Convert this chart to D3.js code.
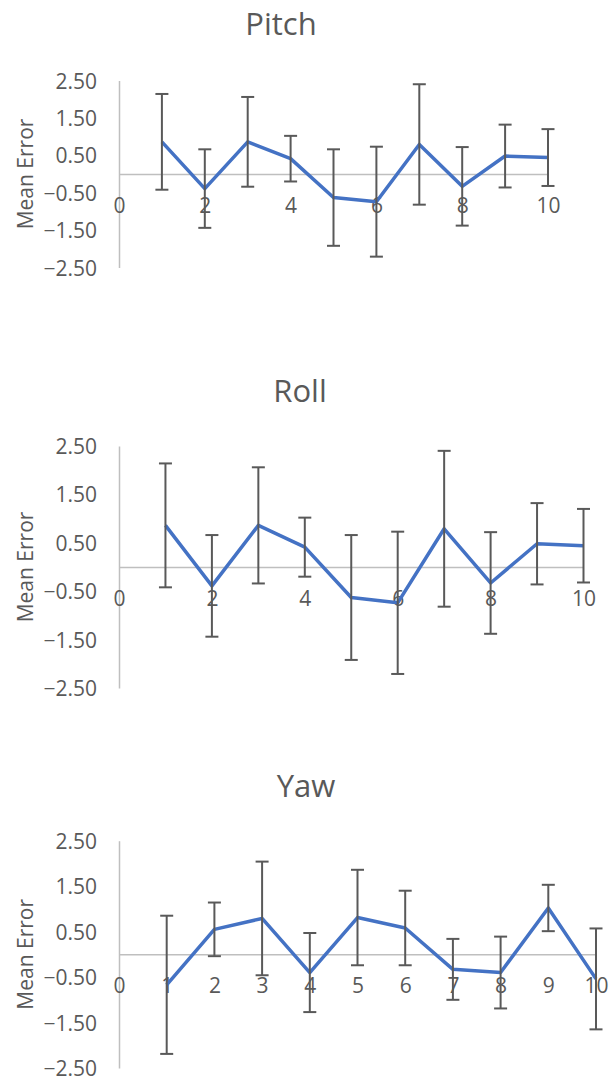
<!DOCTYPE html>
<html lang="en">
<head>
<meta charset="UTF-8">
<style>
    body {margin: 0; background: #ffffff;}
    svg {display: block;}
    .title {font: 31px "Open Sans"; fill: #595959; text-anchor: middle;}
    .axis text {font: 21px "Open Sans"; fill: #595959;}
    .ylabel {font: 21px "Open Sans"; fill: #595959; text-anchor: middle;}
</style>
</head>
<body>
<div id="chart"></div>
<script src="https://d3js.org/d3.v7.min.js"></script>
<script>

// data
var runs = [1, 2, 3, 4, 5, 6, 7, 8, 9, 10];
var yTicks = [2.5, 1.5, 0.5, -0.5, -1.5, -2.5];

var pitchMean = [0.86, -0.39, 0.86, 0.41, -0.63, -0.74, 0.79, -0.33, 0.48, 0.44];
var pitchErr  = [1.28, 1.05, 1.20, 0.61, 1.29, 1.47, 1.61, 1.05, 0.84, 0.76];

var rollMean = [0.86, -0.39, 0.86, 0.41, -0.63, -0.74, 0.79, -0.33, 0.48, 0.44];
var rollErr  = [1.28, 1.05, 1.20, 0.61, 1.29, 1.47, 1.61, 1.05, 0.84, 0.76];

var yawMean = [-0.67, 0.55, 0.79, -0.40, 0.81, 0.58, -0.33, -0.40, 1.02, -0.54];
var yawErr  = [1.52, 0.59, 1.25, 0.87, 1.05, 0.82, 0.67, 0.79, 0.51, 1.11];

var pitchXTicks = [0, 2, 4, 6, 8, 10];
var rollXTicks = [0, 2, 4, 6, 8, 10];
var yawXTicks = [0, 1, 2, 3, 4, 5, 6, 7, 8, 9, 10];

var svg = d3.select("#chart")
    .append("svg")
    .attr("width", 616)
    .attr("height", 1081);

function drawChart(opt) {
    var data = runs.map(function (r, i) {
        return {run: r, mean: opt.mean[i], err: opt.err[i]};
    });

    var x = d3.scaleLinear().domain([0, 10]).range([opt.left, opt.right]);
    var y = d3.scaleLinear().domain([-2.5, 2.5]).range([opt.bottom, opt.top]);

    // title
    svg.append("text")
        .attr("class", "title")
        .attr("x", opt.titleX)
        .attr("y", opt.titleY)
        .text(opt.title);

    // y axis
    var yAxis = svg.append("g")
        .attr("class", "axis y")
        .attr("transform", "translate(" + opt.left + ",0)")
        .call(d3.axisLeft(y).tickValues(yTicks).tickFormat(d3.format(".2f")).tickSize(0).tickPadding(22));
    yAxis.select(".domain").attr("stroke", "#bfbfbf").attr("stroke-width", 1.5);
    yAxis.selectAll("text").attr("dy", "0.36em");

    // x axis at zero
    var xAxis = svg.append("g")
        .attr("class", "axis x")
        .attr("transform", "translate(0," + y(0) + ")")
        .call(d3.axisBottom(x).tickValues(opt.xTicks).tickSize(0));
    xAxis.select(".domain").attr("stroke", "#bfbfbf").attr("stroke-width", 1.5);
    xAxis.selectAll("text").attr("y", 39).attr("dy", 0);

    // y axis title
    svg.append("text")
        .attr("class", "ylabel")
        .attr("transform", "translate(" + 33 + "," + ((opt.top + opt.bottom) / 2) + ") rotate(-90)")
        .text("Mean Error");

    // line
    var line = d3.line()
        .x(function (d) { return x(d.run); })
        .y(function (d) { return y(d.mean); });

    svg.append("path")
        .datum(data)
        .attr("d", line)
        .attr("fill", "none")
        .attr("stroke", "#4472c4")
        .attr("stroke-width", 3.5)
        .attr("stroke-linejoin", "round");

    // error bars
    var bars = svg.append("g")
        .attr("stroke", "#595959")
        .attr("stroke-width", 2);

    bars.selectAll(".ebar")
        .data(data)
        .enter().append("line")
        .attr("x1", function (d) { return x(d.run); })
        .attr("x2", function (d) { return x(d.run); })
        .attr("y1", function (d) { return y(d.mean + d.err); })
        .attr("y2", function (d) { return y(d.mean - d.err); });

    bars.selectAll(".captop")
        .data(data)
        .enter().append("line")
        .attr("x1", function (d) { return x(d.run) - 6.5; })
        .attr("x2", function (d) { return x(d.run) + 6.5; })
        .attr("y1", function (d) { return y(d.mean + d.err); })
        .attr("y2", function (d) { return y(d.mean + d.err); });

    bars.selectAll(".capbot")
        .data(data)
        .enter().append("line")
        .attr("x1", function (d) { return x(d.run) - 6.5; })
        .attr("x2", function (d) { return x(d.run) + 6.5; })
        .attr("y1", function (d) { return y(d.mean - d.err); })
        .attr("y2", function (d) { return y(d.mean - d.err); });
}

drawChart({title: "Pitch", titleX: 281, titleY: 35, mean: pitchMean, err: pitchErr,
    xTicks: pitchXTicks, left: 119, right: 548, top: 80.5, bottom: 267.5});
drawChart({title: "Roll", titleX: 300, titleY: 402, mean: rollMean, err: rollErr,
    xTicks: rollXTicks, left: 119, right: 583.5, top: 446, bottom: 688});
drawChart({title: "Yaw", titleX: 306, titleY: 797, mean: yawMean, err: yawErr,
    xTicks: yawXTicks, left: 119, right: 596, top: 840.7, bottom: 1068});

</script>
</body>
</html>
